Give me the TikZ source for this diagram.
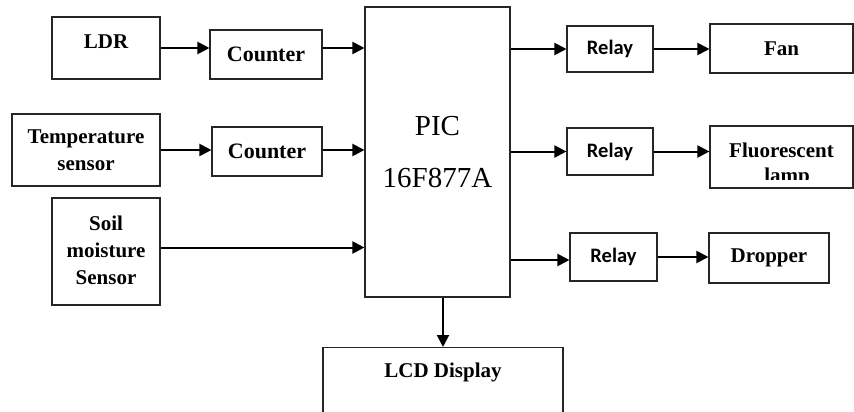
\documentclass[tikz,border=0pt]{standalone}
\usepackage{fontspec}
\setmainfont{Liberation Serif}
\newfontfamily\relayfont{Carlito}
\usetikzlibrary{arrows.meta}
\tikzset{
  blk/.style={draw=black!85, line width=1.1pt, inner sep=0pt, align=center,
    font=\bfseries\fontsize{21}{27}\selectfont},
  rly/.style={blk, font=\relayfont\bfseries\fontsize{20.5}{24}\selectfont},
  conn/.style={line width=2pt, -{Triangle[length=12pt,width=12pt]}},
  txt/.style={inner sep=0pt, font=\bfseries\fontsize{21}{27}\selectfont},
}
\begin{document}
\begin{tikzpicture}[x=1pt,y=-1pt]
\clip (0,0) rectangle (854,412);
\useasboundingbox (0,0) rectangle (854,412);
% left column
\node[blk, minimum width=108pt, minimum height=62pt,
  label={[txt,yshift=6pt]center:LDR}] (ldr) at (106,48) {};
\node[blk, minimum width=148pt, minimum height=72pt] (temp) at (86,150) {Temperature\\sensor};
\node[blk, minimum width=108pt, minimum height=107pt,
  label={[txt,align=center,yshift=1pt]center:{Soil\\moisture\\Sensor}}] (soil) at (106,251.5) {};
% counters
\node[blk, minimum width=112pt, minimum height=49pt, font=\bfseries\fontsize{22}{27}\selectfont] (cnt1) at (266,54.5) {Counter};
\node[blk, minimum width=110pt, minimum height=49pt, font=\bfseries\fontsize{22}{27}\selectfont] (cnt2) at (267,151.5) {Counter};
% PIC
\node[blk, minimum width=145pt, minimum height=290pt,
  font=\fontsize{29}{52}\selectfont] (pic) at (437.5,152) {PIC\\16F877A};
% relays
\node[rly, minimum width=86pt, minimum height=46pt] (r1) at (610,49) {Relay};
\node[rly, minimum width=86pt, minimum height=47pt] (r2) at (610,151.5) {Relay};
\node[rly, minimum width=87pt, minimum height=48pt] (r3) at (613.5,257) {Relay};
% outputs
\node[blk, minimum width=143pt, minimum height=49pt] (fan) at (781.5,48.5) {Fan};
\node[blk, minimum width=143pt, minimum height=62pt,
  label={[txt,yshift=7pt]center:Fluorescent}] (fl) at (781.5,157) {};
\node[blk, minimum width=120pt, minimum height=50pt] (drop) at (769,258) {Dropper};
% LCD
\node[blk, minimum width=240pt, minimum height=90pt, anchor=north,
  label={[txt,anchor=center,yshift=-25pt]north:LCD Display}] (lcd) at (443,347) {};
% clipped "lamp"
\begin{scope}
\clip (711,127) rectangle (852,179);
\node[txt, anchor=base] (lamp) at (787,182) {lamp};
\end{scope}
% connectors
\draw[conn] (ldr.east) -- (ldr.east -| cnt1.west);
\draw[conn] (cnt1.east |- ldr.east) -- (pic.west |- ldr.east);
\draw[conn] (temp.east) -- (temp.east -| cnt2.west);
\draw[conn] (cnt2.east |- temp.east) -- (pic.west |- temp.east);
\draw[conn] ([yshift=4pt]soil.east) -- ([yshift=4pt]soil.east -| pic.west);
\draw[conn] (pic.east |- r1.west) -- (r1.west);
\draw[conn] (r1.east) -- (r1.east -| fan.west);
\draw[conn] (pic.east |- r2.west) -- (r2.west);
\draw[conn] (r2.east) -- (r2.east -| fl.west);
\draw[conn] ([yshift=-3pt]pic.east |- r3.west) -- ([yshift=-3pt]r3.west);
\draw[conn] (r3.east) -- (r3.east -| drop.west);
\draw[conn] (pic.south -| lcd.north) -- (lcd.north);
\end{tikzpicture}
\end{document}
